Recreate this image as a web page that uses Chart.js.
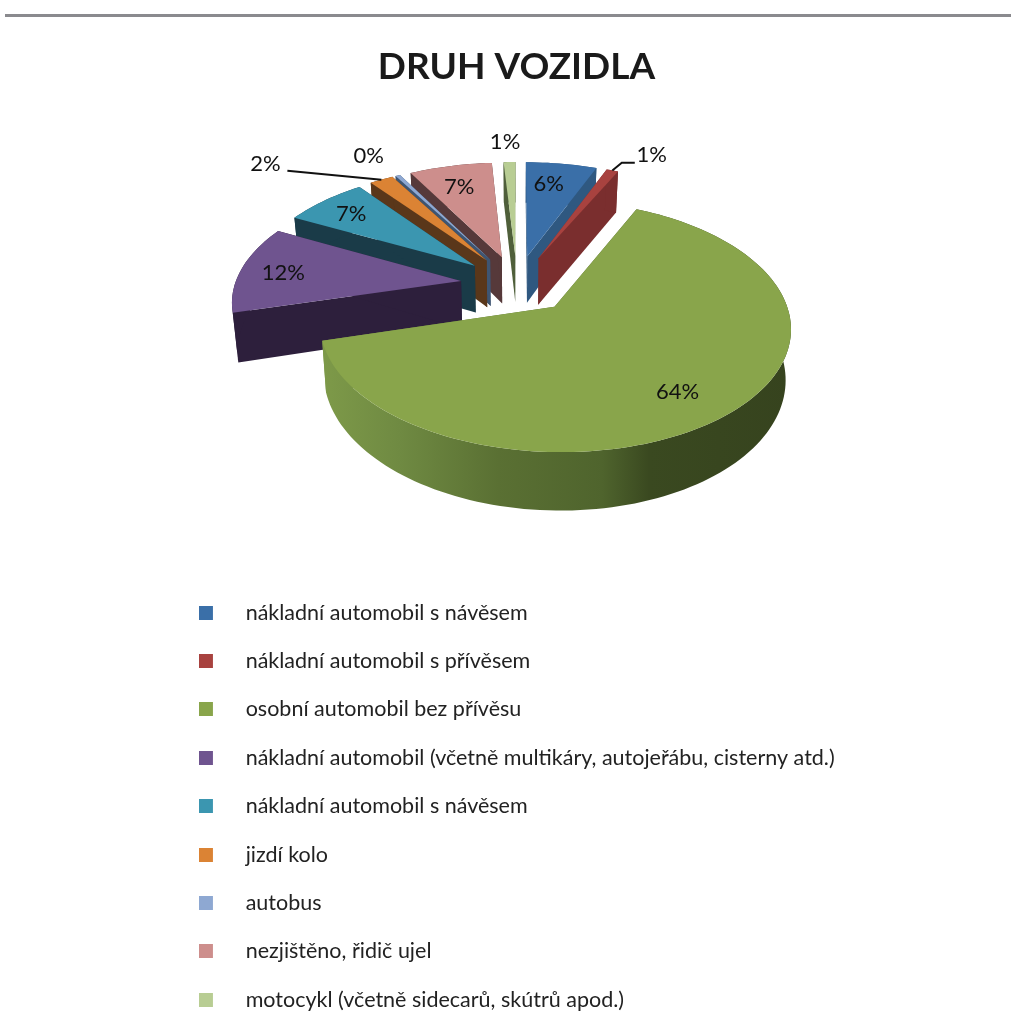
<!DOCTYPE html>
<html lang="cs">
<head>
<meta charset="utf-8">
<title>DRUH VOZIDLA</title>
<script src="https://cdn.jsdelivr.net/npm/chart.js@4"></script>
<style>
  html, body { margin: 0; padding: 0; background: #fff; }
  #wrap { position: relative; width: 1011px; height: 1028px; overflow: hidden; }
  #rule { position: absolute; left: 5px; right: 0; top: 14px; height: 3px; background: #8a8a8e; }
  canvas { display: block; }
</style>
</head>
<body>
<div id="wrap">
  <div id="rule"></div>
  <canvas id="chart" width="1011" height="1028"></canvas>
</div>
<script>
const chartTitle = 'DRUH VOZIDLA'
const categories = [
  'nákladní automobil s návěsem',
  'nákladní automobil s přívěsem',
  'osobní automobil bez přívěsu',
  'nákladní automobil (včetně multikáry, autojeřábu, cisterny atd.)',
  'nákladní automobil s návěsem',
  'jizdí kolo',
  'autobus',
  'nezjištěno, řidič ujel',
  'motocykl (včetně sidecarů, skútrů apod.)'
]
const shares = [6, 1, 64, 12, 7, 2, 0.4, 7, 1]

const topColors = ['#3a6fa8', '#a8423f', '#89a54b', '#6f548f', '#3b96b0', '#db8334', '#8ea8d2', '#cd8e8c', '#b8cd93']
const wallColors = ['#2f5880', '#7a2e2e', '#5a7033', '#2d1f3c', '#1a3b48', '#5a371a', '#3e5572', '#56393a', '#4f5f3a']

// label placement: distance from the slice tip, then a nudge in px
const labelRadius = [0.78, 1.1, 0.75, 0.78, 0.78, 1.0, 1.0, 0.75, 1.1]
const labelNudge = [[-6, 2], [33, -8], [-4, 8], [-6, 1], [-4, 0], [-116, -16], [-29, -20], [-3, 0], [-4, -12]]
// leader lines, offsets from the label centre
const leaders = { 1: [[-17, 8], [-30, 8]], 5: [[22, 7]] }

// 3d view of the pie
const CX = 517, CY = 284, RADIUS = 226, SQUASH = 0.513, DEPTH = 48
const PERSPECTIVE = 0.15, DROP = 0.02, EXPLODE = 0.25

function project(u, v, z) {
  const w = 1 + PERSPECTIVE * v
  return {
    x: CX + u * RADIUS / (w * (1 + DROP * z)),
    y: CY - v * RADIUS * SQUASH / w + z * DEPTH / w
  }
}

function fillPoly(ctx, pts, color) {
  ctx.beginPath()
  pts.forEach((p, i) => i ? ctx.lineTo(p.x, p.y) : ctx.moveTo(p.x, p.y))
  ctx.closePath()
  ctx.fillStyle = color
  ctx.fill()
}

function drawSlice(ctx, arc, index) {
  const mid = (arc.startAngle + arc.endAngle) / 2
  const ou = EXPLODE * Math.cos(mid), ov = -EXPLODE * Math.sin(mid)
  const rim = []
  const steps = Math.max(2, Math.ceil((arc.endAngle - arc.startAngle) / 0.03))
  for (let i = 0; i <= steps; i++) {
    const a = arc.startAngle + (arc.endAngle - arc.startAngle) * i / steps
    rim.push([ou + Math.cos(a), ov - Math.sin(a)])
  }
  let wall = wallColors[index]
  if (index === 2) {
    wall = ctx.createLinearGradient(320, 0, 790, 0)
    wall.addColorStop(0, '#7e9a49')
    wall.addColorStop(0.17, '#6f8a42')
    wall.addColorStop(0.38, '#5a7033')
    wall.addColorStop(0.6, '#4f642d')
    wall.addColorStop(0.7, '#3a4920')
    wall.addColorStop(1, '#36431e')
  }
  // the two cut faces
  const cut = (p) => fillPoly(ctx, [
    project(ou, ov, 0), project(p[0], p[1], 0), project(p[0], p[1], 1), project(ou, ov, 1)
  ], wall)
  cut(rim[0])
  cut(rim[rim.length - 1])
  // outer wall
  const upper = rim.map(p => project(p[0], p[1], 0))
  const lower = rim.map(p => project(p[0], p[1], 1)).reverse()
  fillPoly(ctx, upper.concat(lower), wall)
  // top
  fillPoly(ctx, [project(ou, ov, 0)].concat(upper), topColors[index])
}

const pie3d = {
  id: 'pie3d',
  beforeDatasetDraw(chart, args) {
    const ctx = chart.ctx
    const arcs = args.meta.data.map((arc, index) => ({ arc, index }))
    const depth = a => -Math.sin((a.arc.startAngle + a.arc.endAngle) / 2)
    arcs.sort((a, b) => depth(b) - depth(a))
    ctx.save()
    arcs.forEach(a => drawSlice(ctx, a.arc, a.index))
    ctx.restore()
    return false
  },
  afterDatasetsDraw(chart) {
    const ctx = chart.ctx
    const total = shares.reduce((a, b) => a + b, 0)
    ctx.save()
    ctx.font = '22px Lato'
    ctx.fillStyle = '#111'
    ctx.strokeStyle = '#111'
    ctx.lineWidth = 2
    ctx.textAlign = 'center'
    ctx.textBaseline = 'middle'
    chart.getDatasetMeta(0).data.forEach((arc, i) => {
      const mid = (arc.startAngle + arc.endAngle) / 2
      const d = EXPLODE + labelRadius[i]
      const p = project(d * Math.cos(mid), -d * Math.sin(mid), 0)
      const lx = p.x + labelNudge[i][0], ly = p.y + labelNudge[i][1]
      ctx.fillText(Math.round(shares[i] / total * 100) + '%', lx, ly)
      if (leaders[i]) {
        const end = project((EXPLODE + 1) * Math.cos(mid), -(EXPLODE + 1) * Math.sin(mid), 0)
        ctx.beginPath()
        leaders[i].forEach((o, n) => n ? ctx.lineTo(lx + o[0], ly + o[1]) : ctx.moveTo(lx + o[0], ly + o[1]))
        ctx.lineTo(end.x, end.y)
        ctx.stroke()
      }
    })
    ctx.restore()
  },
  afterLayout(chart) {
    const legend = chart.legend
    const w = legend.width, h = legend.height
    legend.left = 172
    legend.right = 172 + w
    legend.top = 575
    legend.bottom = 575 + h
  }
}

function legendSwatch(color) {
  const c = document.createElement('canvas')
  c.width = 36
  c.height = 14
  const g = c.getContext('2d')
  g.fillStyle = color
  g.fillRect(0, 0, 14, 14)
  return c
}

new Chart(document.getElementById('chart'), {
  type: 'pie',
  data: {
    labels: categories,
    datasets: [{ data: shares, backgroundColor: topColors, borderWidth: 0 }]
  },
  options: {
    responsive: false,
    animation: false,
    radius: RADIUS,
    layout: { padding: { left: 22 } },
    plugins: {
      tooltip: { enabled: false },
      title: {
        display: true,
        text: chartTitle,
        color: '#1a1a1a',
        font: { family: 'Lato', size: 37, weight: 'bold' },
        padding: { top: 45, bottom: 10 }
      },
      legend: {
        position: 'chartArea',
        align: 'start',
        labels: {
          color: '#222',
          font: { family: 'Lato', size: 21.5 },
          padding: 26.9,
          usePointStyle: true,
          pointStyleWidth: 36,
          generateLabels: () => categories.map((text, i) => ({
            text,
            index: i,
            fontColor: '#222',
            pointStyle: legendSwatch(topColors[i]),
            lineWidth: 0
          }))
        }
      }
    }
  },
  plugins: [pie3d]
})
</script>
</body>
</html>
